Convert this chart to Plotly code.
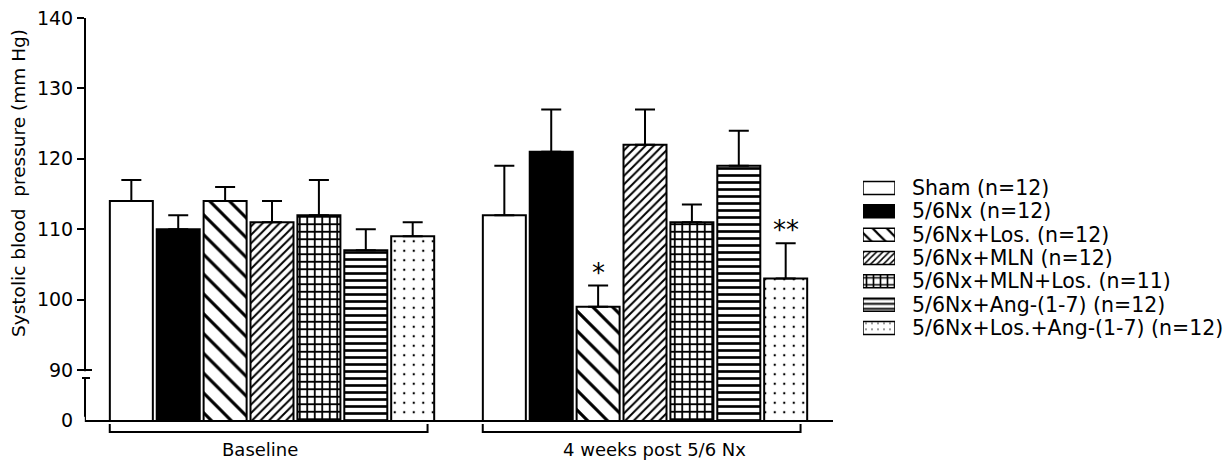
import plotly.graph_objects as go

# ---- data -------------------------------------------------------------
groups = ["Baseline", "4 weeks post 5/6 Nx"]
series_names = [
    "Sham (n=12)",
    "5/6Nx (n=12)",
    "5/6Nx+Los. (n=12)",
    "5/6Nx+MLN (n=12)",
    "5/6Nx+MLN+Los. (n=11)",
    "5/6Nx+Ang-(1-7) (n=12)",
    "5/6Nx+Los.+Ang-(1-7) (n=12)",
]
sham = [114, 112]
nx = [110, 121]
nx_los = [114, 99]
nx_mln = [111, 122]
nx_mln_los = [112, 111]
nx_ang = [107, 119]
nx_los_ang = [109, 103]

sham_sem = [3, 7]
nx_sem = [2, 6]
nx_los_sem = [2, 3]
nx_mln_sem = [3, 5]
nx_mln_los_sem = [5, 2.5]
nx_ang_sem = [3, 5]
nx_los_ang_sem = [2, 5]

significance = [
    ["", ""], ["", ""], ["", "*"], ["", ""], ["", ""], ["", ""], ["", "**"],
]

y_tick_values = [90, 100, 110, 120, 130, 140]
y_tick_labels = ["90", "100", "110", "120", "130", "140"]
axis_zero = 82.9          # level of the broken axis that carries the "0" label
y_top = 140

values = [sham, nx, nx_los, nx_mln, nx_mln_los, nx_ang, nx_los_ang]
errors = [sham_sem, nx_sem, nx_los_sem, nx_mln_sem, nx_mln_los_sem, nx_ang_sem, nx_los_ang_sem]

# ---- styling ----------------------------------------------------------
FONT = "DejaVu Sans"
W, H = 1228, 465
ML, MR, MT, MB = 86, 0, 18, 45
PW, PH = W - ML - MR, H - MT - MB
MAIN_RIGHT = 833            # right end of the bar panel, px

def px_x(px):
    return (px - ML) / PW

def px_y(py):
    return (H - MB - py) / PH

fills = ["white", "black", "white", "white", "white", "white", "white"]
shapes_ = ["", "", "\\", "/", "+", "-", "."]
sizes = [8, 8, 14, 6, 7.5, 7, 9.5]
solid = [0.2, 0.2, 0.22, 0.33, 0.42, 0.38, 0.05]
leg_sizes = [8, 8, 10, 4.5, 7, 5, 6]

BARGAP = 0.12
x_range = [-0.4987, 1.504]
main_dom = [0, px_x(MAIN_RIGHT)]

fig = go.Figure()

for i, name in enumerate(series_names):
    fig.add_trace(go.Bar(
        x=groups, y=values[i], name=name, showlegend=False,
        marker=dict(
            color=fills[i],
            line=dict(color="black", width=2),
            pattern=dict(shape=shapes_[i], size=sizes[i], solidity=solid[i],
                         fgcolor="black", bgcolor="white", fillmode="replace"),
        ),
        error_y=dict(type="data", symmetric=False, array=errors[i],
                     arrayminus=[0] * len(errors[i]),
                     color="black", thickness=2, width=10),
        xaxis="x", yaxis="y",
    ))

# legend swatches: one short horizontal bar per series on their own axes
for i, name in enumerate(series_names):
    fig.add_trace(go.Bar(
        orientation="h", x=[1], y=[i], width=0.56, offset=-0.28,
        showlegend=False, hoverinfo="skip", name=name,
        marker=dict(
            color=fills[i],
            line=dict(color="black", width=1.5),
            pattern=dict(shape=shapes_[i], size=leg_sizes[i], solidity=solid[i],
                         fgcolor="black", bgcolor="white", fillmode="replace"),
        ),
        xaxis="x2", yaxis="y2",
    ))

annotations = []
for i, name in enumerate(series_names):
    annotations.append(dict(
        text=name, xref="paper", yref="y2", x=px_x(910), y=i,
        xanchor="left", yanchor="middle", showarrow=False,
        font=dict(family=FONT, size=20.5, color="black"),
    ))

# significance marks above the error bars
n = len(series_names)
slot = (1 - BARGAP) / n
for i in range(n):
    for g in range(len(groups)):
        mark = significance[i][g]
        if mark:
            annotations.append(dict(
                text=mark, xref="x", yref="y",
                x=g - (1 - BARGAP) / 2 + (i + 0.5) * slot,
                y=values[i][g] + errors[i][g],
                yanchor="bottom", yshift=-4, showarrow=False,
                font=dict(family=FONT, size=26, color="black"),
            ))

# group labels under the brackets
for g, label in enumerate(groups):
    annotations.append(dict(
        text=label, xref="x", yref="paper", x=g, y=px_y(449),
        xshift=-12 if g == 0 else 9,
        xanchor="center", yanchor="middle", showarrow=False,
        font=dict(family=FONT, size=18, color="black"),
    ))

annotations.append(dict(
    text="Systolic blood  pressure (mm Hg)", textangle=-90,
    xref="paper", yref="paper", x=px_x(19), y=px_y(183),
    xanchor="center", yanchor="middle", showarrow=False,
    font=dict(family=FONT, size=18.5, color="black"),
))

def xd_to_paper(v):
    return main_dom[0] + (v - x_range[0]) / (x_range[1] - x_range[0]) * (main_dom[1] - main_dom[0])

def yd_to_paper(v):
    return (v - axis_zero) / (y_top - axis_zero)

line = dict(color="black", width=2)
shapes = []
# brackets under each group
for g in range(len(groups)):
    xl, xr = xd_to_paper(g - 0.435), xd_to_paper(g + 0.417)
    yb, yt = px_y(432), px_y(424)
    shapes.append(dict(type="path", xref="paper", yref="paper",
                       path=f"M {xl},{yt} L {xl},{yb} L {xr},{yb} L {xr},{yt}",
                       line=line))
# axis break on the y axis
y90 = yd_to_paper(90)
y_low = px_y(378)
shapes.append(dict(type="rect", xref="paper", yref="paper", layer="above",
                   x0=px_x(ML - 2), x1=px_x(ML + 2), y0=y_low + 0.002, y1=y90 - 0.003,
                   fillcolor="white", line=dict(width=0)))
shapes.append(dict(type="line", xref="paper", yref="paper", layer="above",
                   x0=px_x(ML - 1), x1=px_x(ML + 6), y0=y90, y1=y90, line=line))
shapes.append(dict(type="line", xref="paper", yref="paper", layer="above",
                   x0=px_x(ML - 4), x1=px_x(ML + 4), y0=y_low, y1=y_low, line=line))
# no tick mark next to the "0" label
shapes.append(dict(type="rect", xref="paper", yref="paper", layer="above",
                   x0=px_x(ML - 10), x1=px_x(ML - 1.2), y0=-0.008, y1=0.008,
                   fillcolor="white", line=dict(width=0)))

leg_top, leg_bot = 188 - 11.67, 328 + 11.67

fig.update_layout(
    width=W, height=H,
    margin=dict(l=ML, r=MR, t=MT, b=MB, pad=0),
    paper_bgcolor="white", plot_bgcolor="white",
    barmode="group", bargap=BARGAP, bargroupgap=0.083,
    font=dict(family=FONT, color="black"),
    xaxis=dict(domain=main_dom, range=x_range, showticklabels=False, ticks="",
               showgrid=False, zeroline=False, showline=True, linecolor="black",
               linewidth=2, fixedrange=True),
    yaxis=dict(range=[axis_zero, y_top], tickvals=[axis_zero] + y_tick_values,
               ticktext=["0"] + y_tick_labels, ticks="outside", ticklen=7,
               tickwidth=2, tickcolor="black", showgrid=False, zeroline=False,
               showline=True, linecolor="black", linewidth=2,
               tickfont=dict(family=FONT, size=19, color="black")),
    xaxis2=dict(domain=[px_x(863), px_x(895)], range=[0, 1], visible=False,
                anchor="y2", fixedrange=True),
    yaxis2=dict(domain=[px_y(leg_bot), px_y(leg_top)], range=[6.5, -0.5],
                visible=False, anchor="x2", fixedrange=True),
    annotations=annotations,
    shapes=shapes,
)

fig.write_html("out.html")
